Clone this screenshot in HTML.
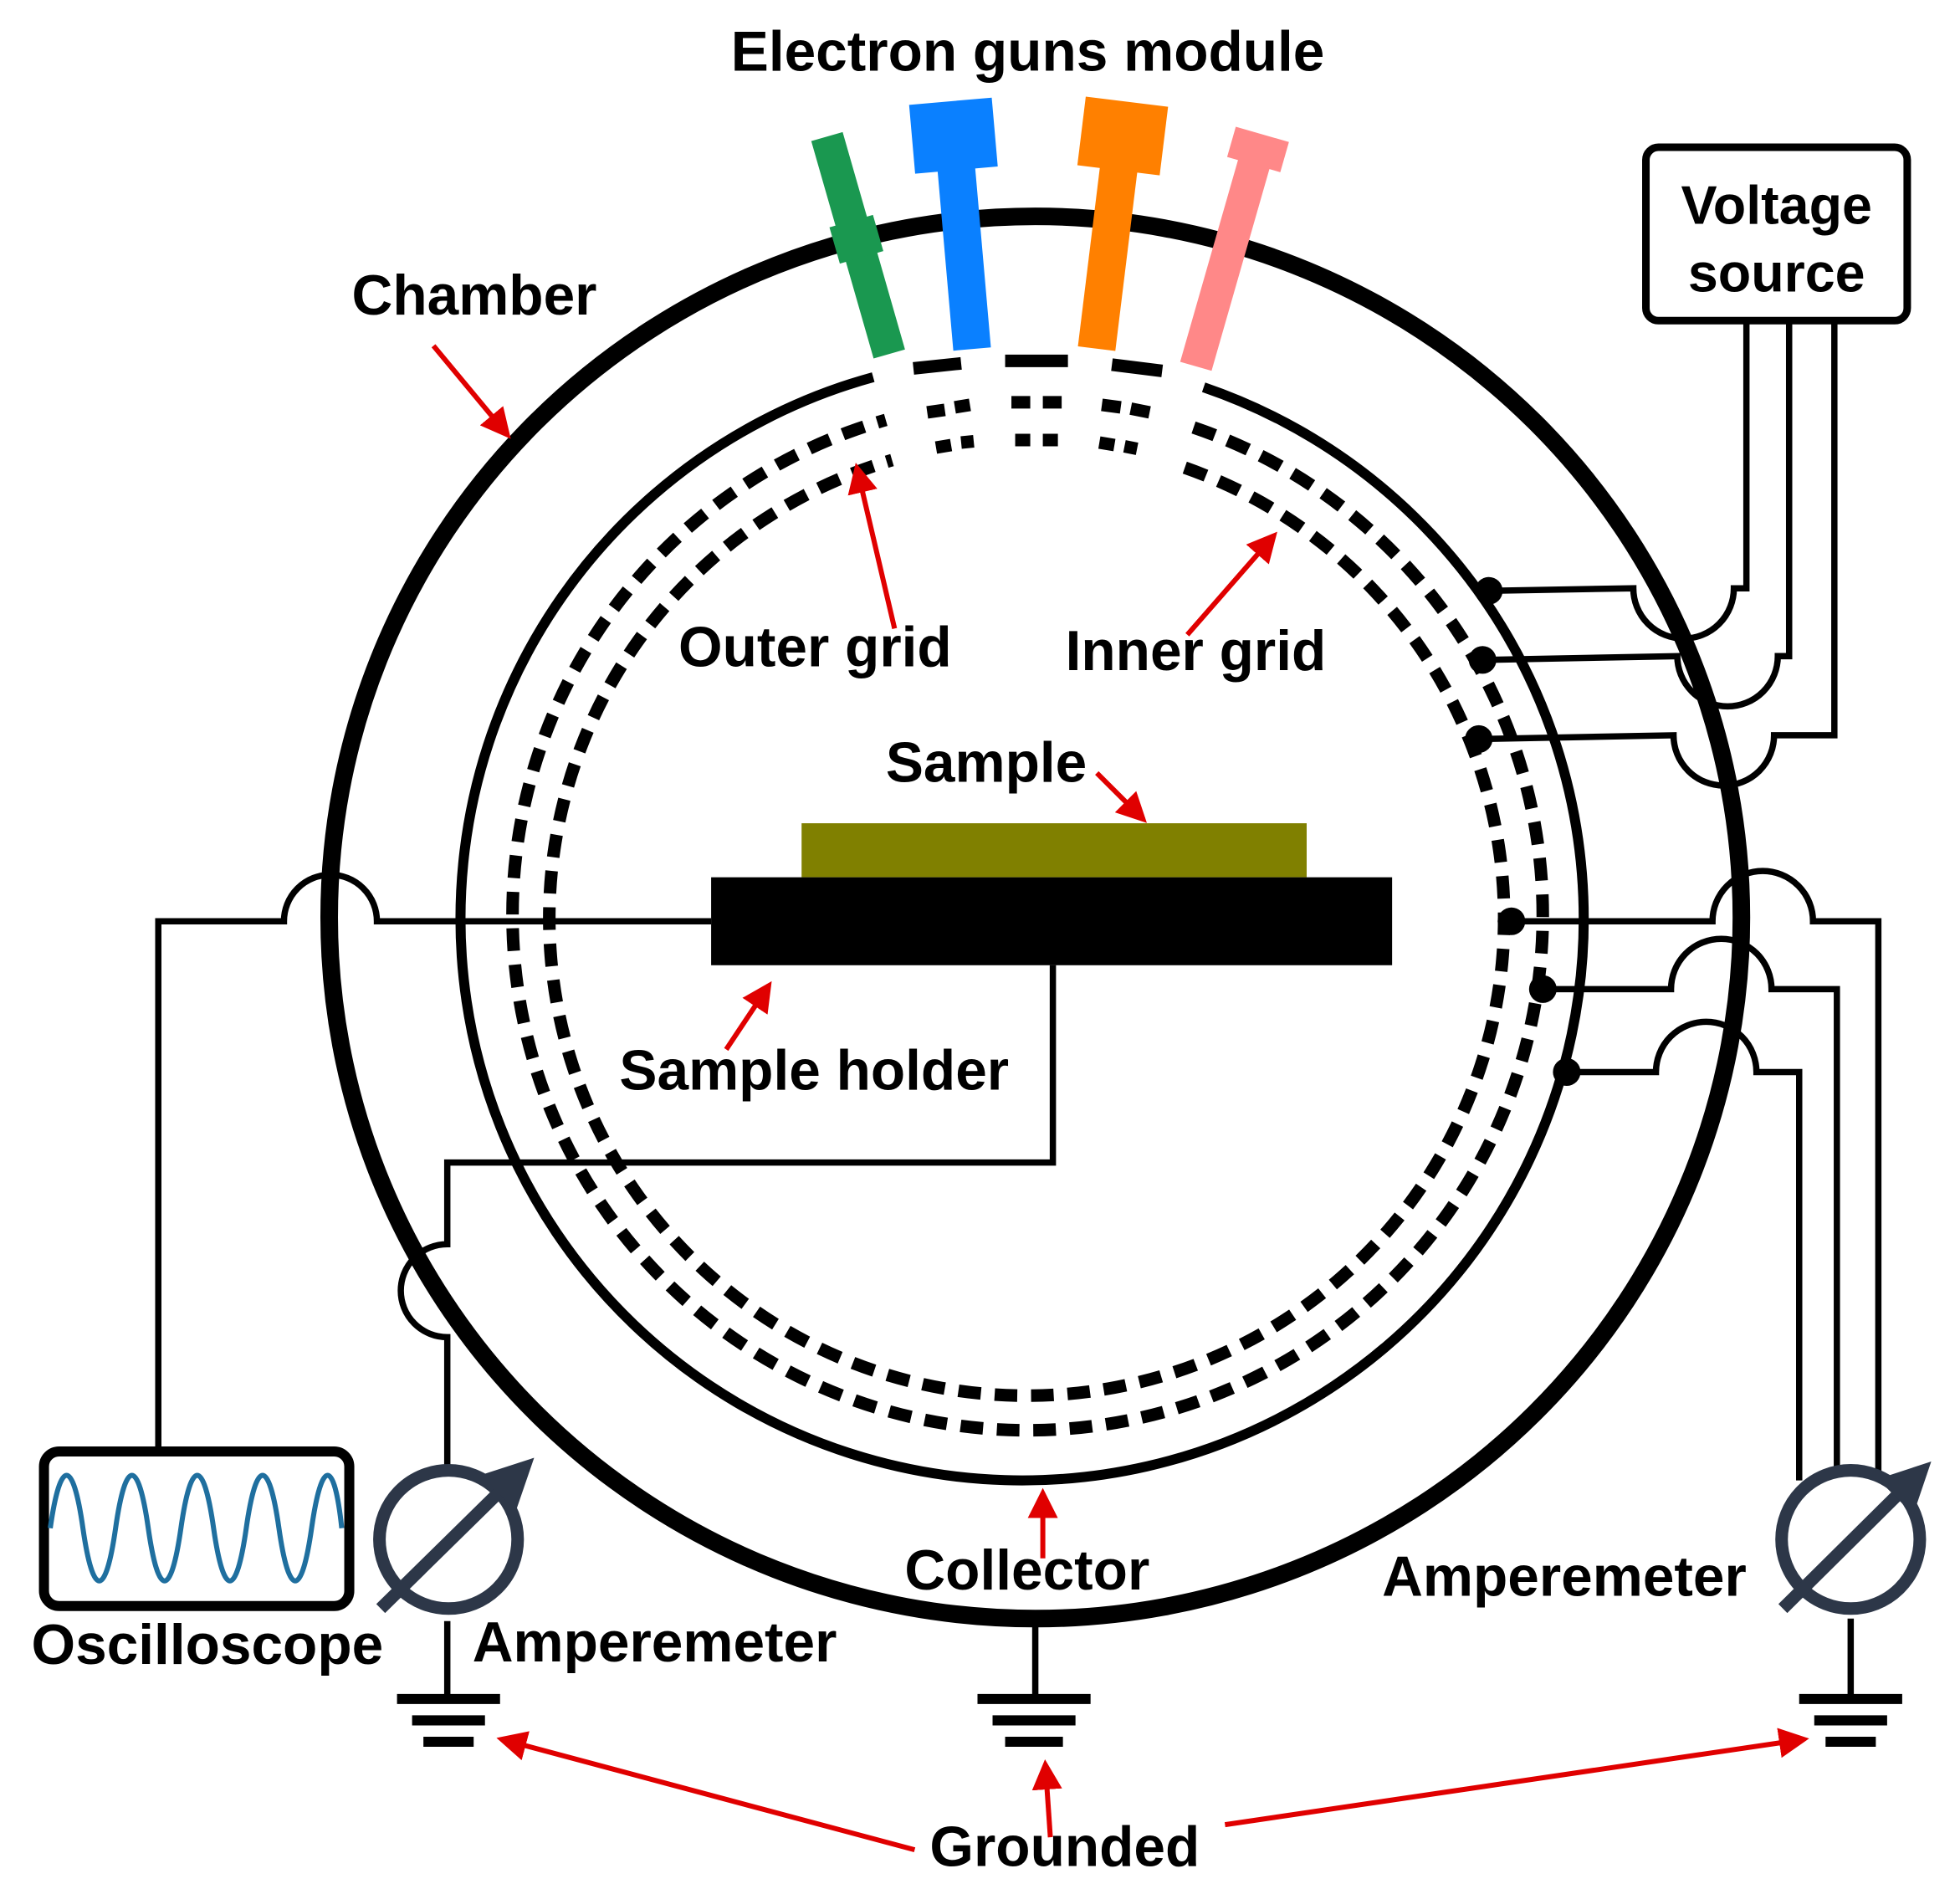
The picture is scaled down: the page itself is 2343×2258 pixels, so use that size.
<!DOCTYPE html>
<html><head><meta charset="utf-8"><style>
html,body{margin:0;padding:0;background:#fff}
svg{display:block}
text{font-family:"Liberation Sans",sans-serif;font-weight:bold;fill:#000}
</style></head><body>
<svg width="2343" height="2258" viewBox="0 0 1560 1503" xmlns="http://www.w3.org/2000/svg">
<defs>
<marker id="ar" markerWidth="6" markerHeight="6" refX="5" refY="3" orient="auto" markerUnits="strokeWidth"><path d="M0,0 L6,3 L0,6 z" fill="#e00000"/></marker>
<marker id="am" markerWidth="4" markerHeight="4" refX="3" refY="2" orient="auto" markerUnits="strokeWidth"><path d="M0,0 L4,2 L0,4 z" fill="#2d3748"/></marker>
</defs>
<ellipse cx="824" cy="730" rx="562" ry="558" fill="none" stroke="#000" stroke-width="14"/>
<path d="M958 308 A447 447 0 1 1 695 300" fill="none" stroke="#000" stroke-width="8"/>
<g stroke="#000" stroke-width="10" fill="none">
<path d="M727 293 L765 289"/><path d="M800 287 L850 287"/><path d="M885 290 L925 295"/>
</g>
<path d="M950 340 A410 410 0 1 1 705 334" fill="none" stroke="#000" stroke-width="10" stroke-dasharray="18 11"/>
<path d="M943 372 A380 380 0 1 1 710 366" fill="none" stroke="#000" stroke-width="10" stroke-dasharray="18 11"/>
<g stroke="#000" stroke-width="10" fill="none">
<path d="M738 328 L752 326"/><path d="M760 324 L772 322"/><path d="M805 320 L820 320"/><path d="M830 320 L845 320"/><path d="M877 322 L892 324"/><path d="M900 325 L915 328"/>
<path d="M745 356 L757 354"/><path d="M765 352 L775 351"/><path d="M808 350 L820 350"/><path d="M830 350 L842 350"/><path d="M875 352 L887 354"/><path d="M895 355 L905 357"/>
</g>
<g transform="translate(683,195) rotate(-16)"><rect x="-13" y="-90" width="26" height="180" fill="#1a9850"/><rect x="-18" y="-20" width="36" height="30" fill="#1a9850"/></g>
<g transform="translate(765,178) rotate(-5)"><rect x="-15" y="-55" width="30" height="155" fill="#0a80ff"/><rect x="-33" y="-98" width="66" height="55" fill="#0a80ff"/></g>
<g transform="translate(885,178) rotate(7)"><rect x="-15" y="-55" width="30" height="155" fill="#ff8000"/><rect x="-33" y="-98" width="66" height="55" fill="#ff8000"/></g>
<g transform="translate(978,200) rotate(16)"><rect x="-13" y="-75" width="26" height="170" fill="#ff8888"/><rect x="-22" y="-97" width="44" height="25" fill="#ff8888"/></g>
<rect x="638" y="655" width="402" height="43" fill="#808000"/>
<rect x="566" y="698" width="542" height="70" fill="#000"/>
<g fill="none" stroke="#000" stroke-width="5">
<path d="M566 733 L300 733 A37 37 0 0 0 226 733 L126 733 L126 1155"/>
<path d="M838 768 L838 925 L356 925 L356 990 A37 37 0 0 0 356 1064 L356 1170"/>
<path d="M356 1290 L356 1350"/>
<path d="M824 1292 L824 1350"/>
<path d="M1473 1288 L1473 1350"/>
<path d="M1390 255 L1390 468 L1380 468 A40 40 0 0 1 1300 468 L1185 470"/>
<path d="M1424 255 L1424 522 L1415 522 A40 40 0 0 1 1335 522 L1180 525"/>
<path d="M1460 255 L1460 585 L1412 585 A40 40 0 0 1 1332 585 L1177 588"/>
<path d="M1203 733 L1363 733 A40 40 0 0 1 1443 733 L1495 733 L1495 1178"/>
<path d="M1228 787 L1330 787 A40 40 0 0 1 1410 787 L1462 787 L1462 1172"/>
<path d="M1247 853 L1318 853 A40 40 0 0 1 1398 853 L1432 853 L1432 1178"/>
</g>
<g fill="#000">
<circle cx="1185" cy="470" r="11"/><circle cx="1180" cy="525" r="11"/><circle cx="1177" cy="588" r="11"/>
<circle cx="1203" cy="733" r="11"/><circle cx="1228" cy="787" r="11"/><circle cx="1247" cy="853" r="11"/>
</g>
<rect x="1310" y="117" width="208" height="138" rx="10" fill="#fff" stroke="#000" stroke-width="6"/>
<text x="1414" y="178" font-size="43" text-anchor="middle">Voltage</text>
<text x="1414" y="232" font-size="43" text-anchor="middle">source</text>
<rect x="35" y="1155" width="243" height="123" rx="12" fill="#fff" stroke="#000" stroke-width="8"/>
<path d="M40 1216 C48 1160,58 1160,66 1216 S84 1272,92 1216 S110 1160,118 1216 S136 1272,144 1216 S162 1160,170 1216 S188 1272,196 1216 S214 1160,222 1216 S240 1272,248 1216 S266 1160,272 1216" fill="none" stroke="#1f6f9f" stroke-width="4"/>
<g stroke="#2d3748" stroke-width="10" fill="none">
<circle cx="357" cy="1225" r="55"/>
<line x1="303" y1="1280" x2="418" y2="1167" marker-end="url(#am)"/>
<circle cx="1473" cy="1225" r="55"/>
<line x1="1419" y1="1280" x2="1530" y2="1170" marker-end="url(#am)"/>
</g>
<g stroke="#000" stroke-width="8">
<line x1="316" y1="1352" x2="398" y2="1352"/><line x1="328" y1="1369" x2="386" y2="1369"/><line x1="337" y1="1386" x2="377" y2="1386"/>
<line x1="778" y1="1352" x2="868" y2="1352"/><line x1="790" y1="1369" x2="856" y2="1369"/><line x1="800" y1="1386" x2="846" y2="1386"/>
<line x1="1432" y1="1352" x2="1514" y2="1352"/><line x1="1444" y1="1369" x2="1502" y2="1369"/><line x1="1453" y1="1386" x2="1493" y2="1386"/>
</g>
<g stroke="#e00000" stroke-width="4" fill="none">
<line x1="345" y1="275" x2="404" y2="346" marker-end="url(#ar)"/>
<line x1="712" y1="500" x2="682" y2="372" marker-end="url(#ar)"/>
<line x1="945" y1="505" x2="1014" y2="426" marker-end="url(#ar)"/>
<line x1="873" y1="615" x2="910" y2="652" marker-end="url(#ar)"/>
<line x1="578" y1="835" x2="612" y2="784" marker-end="url(#ar)"/>
<line x1="830" y1="1240" x2="830" y2="1188" marker-end="url(#ar)"/>
<line x1="728" y1="1472" x2="399" y2="1384" marker-end="url(#ar)"/>
<line x1="836" y1="1462" x2="832" y2="1404" marker-end="url(#ar)"/>
<line x1="975" y1="1452" x2="1436" y2="1384" marker-end="url(#ar)"/>
</g>
<g font-size="45">
<text x="818" y="56" text-anchor="middle">Electron guns module</text>
<text x="280" y="250">Chamber</text>
<text x="540" y="530">Outer grid</text>
<text x="848" y="533">Inner grid</text>
<text x="705" y="622">Sample</text>
<text x="493" y="867">Sample holder</text>
<text x="720" y="1265">Collector</text>
<text x="376" y="1322">Amperemeter</text>
<text x="1100" y="1270">Amperemeter</text>
<text x="25" y="1324">Oscilloscope</text>
<text x="740" y="1485">Grounded</text>
</g>
</svg>
</body></html>
